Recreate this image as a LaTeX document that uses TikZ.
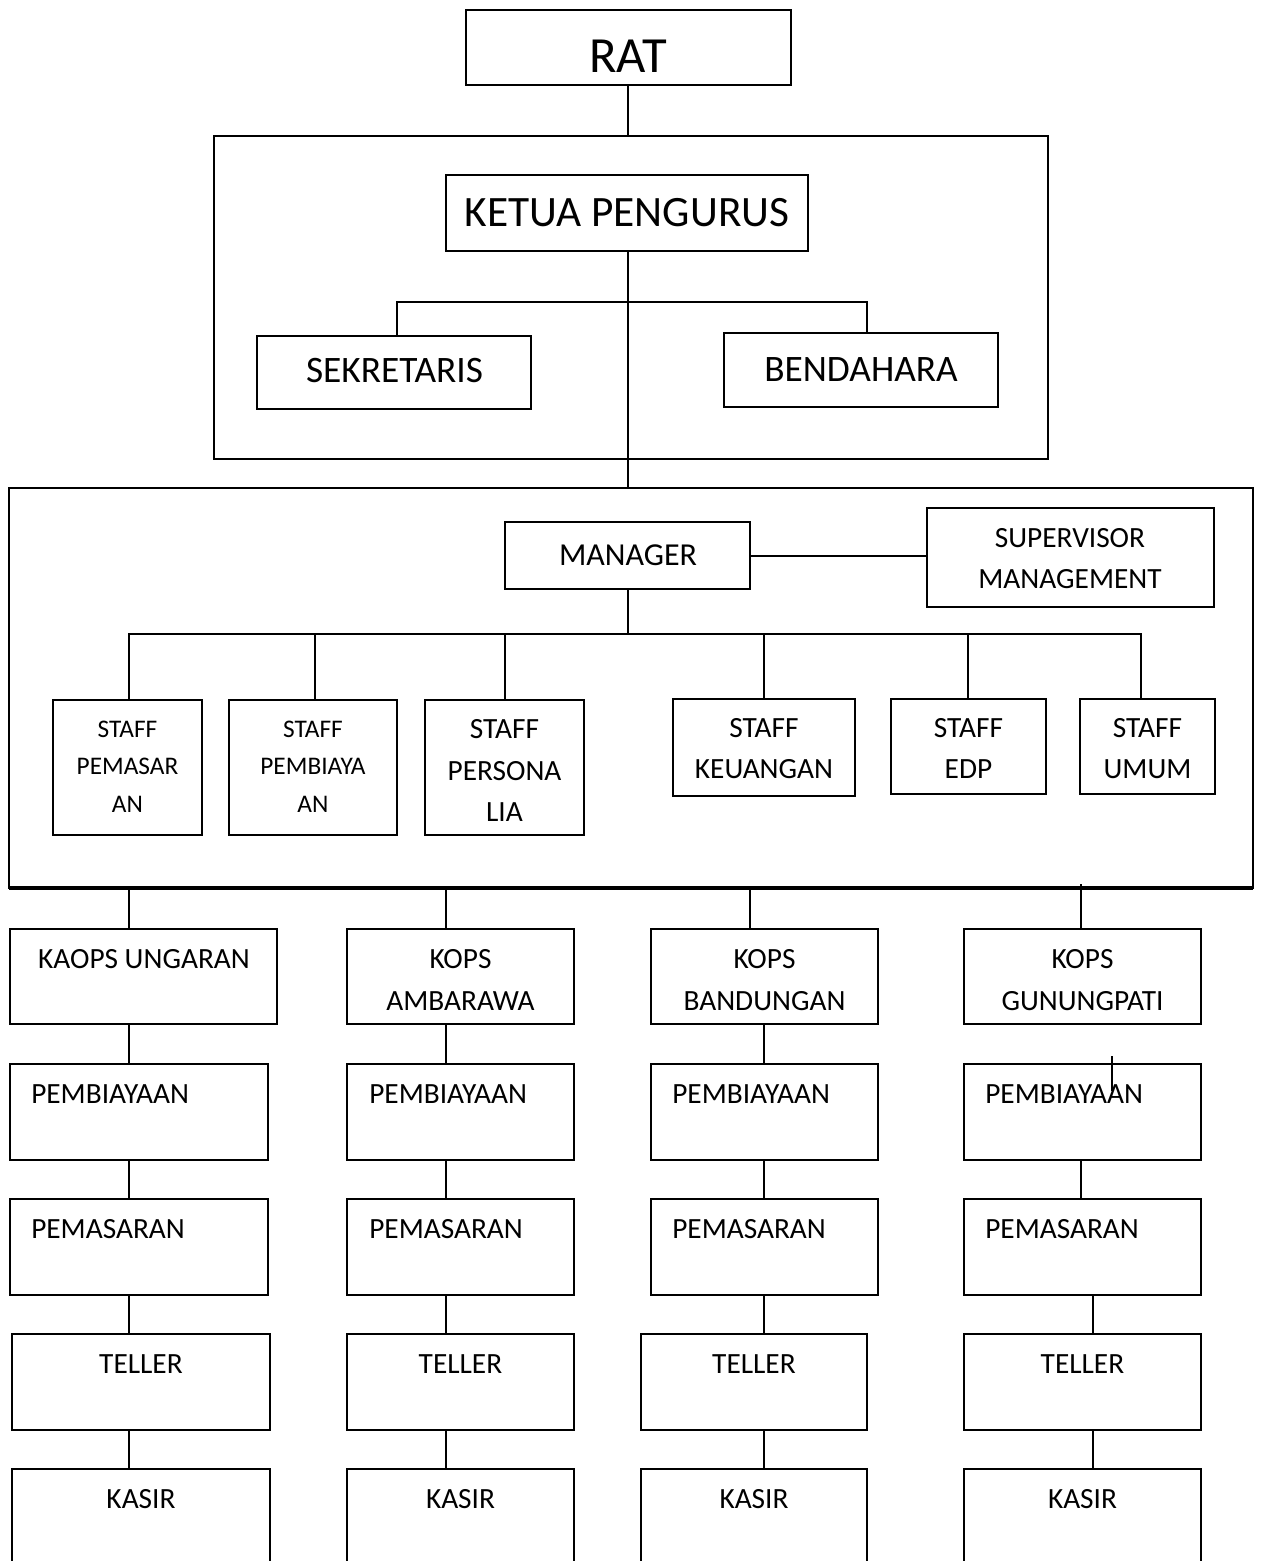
\documentclass[tikz,border=0pt]{standalone}
\usepackage{fontspec}
\setmainfont{Carlito}
\usetikzlibrary{fit}
\begin{document}
\begin{tikzpicture}[x=0.75pt,y=-0.75pt,
  box/.style={draw, line width=1.5pt, inner sep=0pt, outer sep=0pt},
  ln/.style={line width=1.5pt},
  txt/.style={anchor=base, inner sep=0pt},
  ltxt/.style={anchor=base west, inner sep=0pt},
  fA/.style={font=\fontsize{38}{46}\selectfont},
  fB/.style={font=\fontsize{32.5}{39}\selectfont},
  fC/.style={font=\fontsize{28}{34}\selectfont},
  fD/.style={font=\fontsize{24}{29}\selectfont},
  fE/.style={font=\fontsize{22}{27}\selectfont},
  fF/.style={font=\fontsize{19}{23}\selectfont}]
\useasboundingbox (0,0) rectangle (1261,1561);
\clip (0,0) rectangle (1261,1561);
\fill[white] (0,0) rectangle (1261,1561);

% ---------- boxes ----------
\node[box, fit={(466,10) (791,85)}] (rat) {};
\node[box, fit={(214,136) (1048,459)}] (f1) {};
\node[box, fit={(446,175) (808,251)}] (ketua) {};
\node[box, fit={(257,336) (531,409)}] (sek) {};
\node[box, fit={(724,333) (998,407)}] (ben) {};
\node[box, fit={(9,488) (1253,888)}] (f2) {};
\node[box, fit={(505,522) (750,589)}] (mgr) {};
\node[box, fit={(927,508) (1214,607)}] (sup) {};
\node[box, fit={(53,700) (202,835)}] (s1) {};
\node[box, fit={(229,700) (397,835)}] (s2) {};
\node[box, fit={(425,700) (584,835)}] (s3) {};
\node[box, fit={(673,699) (855,796)}] (s4) {};
\node[box, fit={(891,699) (1046,794)}] (s5) {};
\node[box, fit={(1080,699) (1215,794)}] (s6) {};

\node[box, fit={(10,929) (277,1024)}] (k1) {};
\node[box, fit={(347,929) (574,1024)}] (k2) {};
\node[box, fit={(651,929) (878,1024)}] (k3) {};
\node[box, fit={(964,929) (1201,1024)}] (k4) {};

\node[box, fit={(10,1064) (268,1160)}] (b1) {};
\node[box, fit={(347,1064) (574,1160)}] (b2) {};
\node[box, fit={(651,1064) (878,1160)}] (b3) {};
\node[box, fit={(964,1064) (1201,1160)}] (b4) {};

\node[box, fit={(10,1199) (268,1295)}] (p1) {};
\node[box, fit={(347,1199) (574,1295)}] (p2) {};
\node[box, fit={(651,1199) (878,1295)}] (p3) {};
\node[box, fit={(964,1199) (1201,1295)}] (p4) {};

\node[box, fit={(12,1334) (270,1430)}] (t1) {};
\node[box, fit={(347,1334) (574,1430)}] (t2) {};
\node[box, fit={(641,1334) (867,1430)}] (t3) {};
\node[box, fit={(964,1334) (1201,1430)}] (t4) {};

\node[box, fit={(12,1469) (270,1590)}] (c1) {};
\node[box, fit={(347,1469) (574,1590)}] (c2) {};
\node[box, fit={(641,1469) (867,1590)}] (c3) {};
\node[box, fit={(964,1469) (1201,1590)}] (c4) {};

% thicker bottom edge of management frame
\draw[line width=2.3pt] (f2.south west) -- (f2.south east);

% ---------- texts ----------
\node[txt,fA] (xrat) at (628,72) {RAT};
\node[txt,fB] (xket) at (627,226) {KETUA PENGURUS};
\node[txt,fC] (xsek) at (394.5,382) {SEKRETARIS};
\node[txt,fC] (xben) at (861,381) {BENDAHARA};
\node[txt,fD] (xmgr) at (628,565) {MANAGER};
\node[txt,fE] (xsupa) at (1070,547) {SUPERVISOR};
\node[txt,fE] (xsupb) at (1070,588) {MANAGEMENT};

\node[txt,fF] (xs1a) at (127.5,737) {STAFF};
\node[txt,fF] (xs1b) at (127.5,774) {PEMASAR};
\node[txt,fF] (xs1c) at (127.5,812) {AN};
\node[txt,fF] (xs2a) at (313,737) {STAFF};
\node[txt,fF] (xs2b) at (313,774) {PEMBIAYA};
\node[txt,fF] (xs2c) at (313,812) {AN};
\node[txt,fE] (xs3a) at (504.5,738) {STAFF};
\node[txt,fE] (xs3b) at (504.5,780) {PERSONA};
\node[txt,fE] (xs3c) at (504.5,821) {LIA};
\node[txt,fE] (xs4a) at (764,737) {STAFF};
\node[txt,fE] (xs4b) at (764,778) {KEUANGAN};
\node[txt,fE] (xs5a) at (968.5,737) {STAFF};
\node[txt,fE] (xs5b) at (968.5,778) {EDP};
\node[txt,fE] (xs6a) at (1147.5,737) {STAFF};
\node[txt,fE] (xs6b) at (1147.5,778) {UMUM};

\node[txt,fE] (xk1) at (144,968) {KAOPS UNGARAN};
\node[txt,fE] (xk2a) at (460.5,968) {KOPS};
\node[txt,fE] (xk2b) at (460.5,1010) {AMBARAWA};
\node[txt,fE] (xk3a) at (764.5,968) {KOPS};
\node[txt,fE] (xk3b) at (764.5,1010) {BANDUNGAN};
\node[txt,fE] (xk4a) at (1082.5,968) {KOPS};
\node[txt,fE] (xk4b) at (1082.5,1010) {GUNUNGPATI};

\node[ltxt,fE] (xb1) at (31,1103) {PEMBIAYAAN};
\node[ltxt,fE] (xb2) at (369,1103) {PEMBIAYAAN};
\node[ltxt,fE] (xb3) at (672,1103) {PEMBIAYAAN};
\node[ltxt,fE] (xb4) at (985,1103) {PEMBIAYAAN};

\node[ltxt,fE] (xp1) at (31,1238) {PEMASARAN};
\node[ltxt,fE] (xp2) at (369,1238) {PEMASARAN};
\node[ltxt,fE] (xp3) at (672,1238) {PEMASARAN};
\node[ltxt,fE] (xp4) at (985,1238) {PEMASARAN};

\node[txt,fE] (xt1) at (141,1373) {TELLER};
\node[txt,fE] (xt2) at (460.5,1373) {TELLER};
\node[txt,fE] (xt3) at (754,1373) {TELLER};
\node[txt,fE] (xt4) at (1082.5,1373) {TELLER};

\node[txt,fE] (xc1) at (141,1508) {KASIR};
\node[txt,fE] (xc2) at (460.5,1508) {KASIR};
\node[txt,fE] (xc3) at (754,1508) {KASIR};
\node[txt,fE] (xc4) at (1082.5,1508) {KASIR};

% ---------- connectors ----------
\coordinate (vtop) at (628,0);
\draw[ln] (rat.south -| vtop) -- (f1.north -| vtop);
\draw[ln] (ketua.south -| vtop) -- (f2.north -| vtop);

\coordinate (busA) at (397,302);
\coordinate (busB) at (867,302);
\draw[ln] (sek.north -| busA) -- (busA) -- (busB) -- (ben.north -| busB);

\draw[ln] (mgr.east) -- (sup.west |- mgr.east);

\coordinate (m1) at (129,634);
\coordinate (m2) at (315,634);
\coordinate (m3) at (505,634);
\coordinate (m4) at (764,634);
\coordinate (m5) at (968,634);
\coordinate (m6) at (1141,634);
\draw[ln] (mgr.south -| vtop) -- (m1 -| vtop);
\draw[ln] (s1.north -| m1) -- (m1) -- (m6) -- (s6.north -| m6);
\draw[ln] (m2) -- (s2.north -| m2);
\draw[ln] (m3) -- (s3.north -| m3);
\draw[ln] (m4) -- (s4.north -| m4);
\draw[ln] (m5) -- (s5.north -| m5);

% columns
\coordinate (x1) at (129,0);
\coordinate (x2) at (446,0);
\coordinate (x3) at (750,0);
\coordinate (x3b) at (764,0);
\coordinate (x4) at (1081,0);
\coordinate (x4b) at (1093,0);
\coordinate (x4s) at (1112,0);

\draw[ln] (f2.south -| x1) -- (k1.north -| x1);
\draw[ln] (f2.south -| x2) -- (k2.north -| x2);
\draw[ln] (f2.south -| x3) -- (k3.north -| x3);
\draw[ln] ([yshift=3pt]f2.south -| x4) -- (k4.north -| x4);

\draw[ln] (k1.south -| x1) -- (b1.north -| x1);
\draw[ln] (b1.south -| x1) -- (p1.north -| x1);
\draw[ln] (p1.south -| x1) -- (t1.north -| x1);
\draw[ln] (t1.south -| x1) -- (c1.north -| x1);

\draw[ln] (k2.south -| x2) -- (b2.north -| x2);
\draw[ln] (b2.south -| x2) -- (p2.north -| x2);
\draw[ln] (p2.south -| x2) -- (t2.north -| x2);
\draw[ln] (t2.south -| x2) -- (c2.north -| x2);

\draw[ln] (k3.south -| x3b) -- (b3.north -| x3b);
\draw[ln] (b3.south -| x3b) -- (p3.north -| x3b);
\draw[ln] (p3.south -| x3b) -- (t3.north -| x3b);
\draw[ln] (t3.south -| x3b) -- (c3.north -| x3b);

\draw[ln] ([yshift=6pt]b4.north -| x4s) -- ([yshift=-20pt]b4.north -| x4s);
\draw[ln] (b4.south -| x4) -- (p4.north -| x4);
\draw[ln] (p4.south -| x4b) -- (t4.north -| x4b);
\draw[ln] (t4.south -| x4b) -- (c4.north -| x4b);
\end{tikzpicture}
\end{document}
